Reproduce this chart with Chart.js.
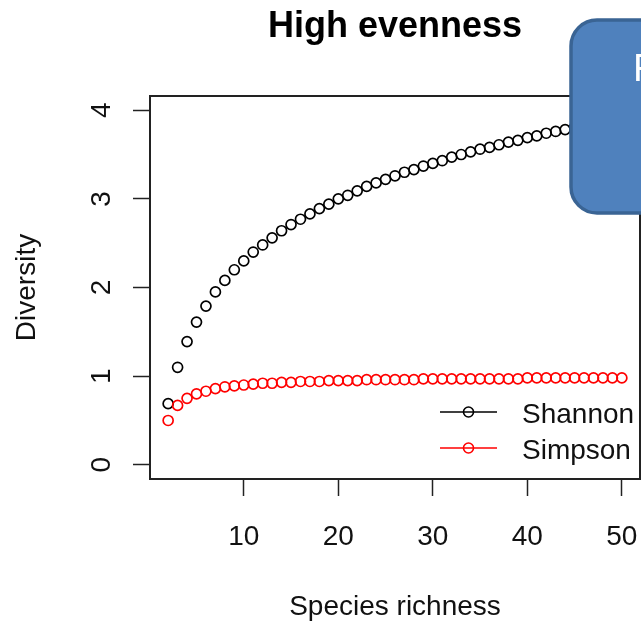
<!DOCTYPE html>
<html>
<head>
<meta charset="utf-8">
<script src="https://cdn.jsdelivr.net/npm/chart.js@4.4.0/dist/chart.umd.min.js"></script>
<style>
    html, body { margin: 0; padding: 0; background: #ffffff; }
    canvas { display: block; }
</style>
</head>
<body>
<canvas id="ChartDiversity" width="641" height="622"></canvas>
<script>
(function () {
    "use strict";

    // Data
    const richness = [2, 3, 4, 5, 6, 7, 8, 9, 10, 11, 12, 13, 14, 15, 16, 17, 18, 19, 20, 21, 22, 23, 24, 25, 26,
        27, 28, 29, 30, 31, 32, 33, 34, 35, 36, 37, 38, 39, 40, 41, 42, 43, 44, 45, 46, 47, 48, 49, 50];
    const shannon = [0.69, 1.10, 1.39, 1.61, 1.79, 1.95, 2.08, 2.20, 2.30, 2.40, 2.48, 2.56, 2.64, 2.71, 2.77,
        2.83, 2.89, 2.94, 3.00, 3.04, 3.09, 3.14, 3.18, 3.22, 3.26, 3.30, 3.33, 3.37, 3.40, 3.43, 3.47, 3.50,
        3.53, 3.56, 3.58, 3.61, 3.64, 3.66, 3.69, 3.71, 3.74, 3.76, 3.78, 3.81, 3.83, 3.85, 3.87, 3.89, 3.91];
    const simpson = [0.50, 0.67, 0.75, 0.80, 0.83, 0.86, 0.88, 0.89, 0.90, 0.91, 0.92, 0.92, 0.93, 0.93, 0.94,
        0.94, 0.94, 0.95, 0.95, 0.95, 0.95, 0.96, 0.96, 0.96, 0.96, 0.96, 0.96, 0.97, 0.97, 0.97, 0.97, 0.97,
        0.97, 0.97, 0.97, 0.97, 0.97, 0.97, 0.98, 0.98, 0.98, 0.98, 0.98, 0.98, 0.98, 0.98, 0.98, 0.98, 0.98];
    const xTicks = [10, 20, 30, 40, 50];
    const yTicks = [0, 1, 2, 3, 4];

    // Colors / fonts
    const font_family = '"Liberation Sans", Arial, sans-serif';
    const text_black = '#111111';
    const axis_dark = '#222222';
    const simpson_red = '#ff0000';
    const box_fill = '#4f81bd';
    const box_border = '#3a6494';

    const toPoints = (ys) => ys.map((y, i) => ({ x: richness[i], y: y }));

    // Title above the plot region
    const titlePlugin = {
        id: 'rTitle',
        afterDraw(chart) {
            const { ctx, chartArea } = chart;
            ctx.save();
            ctx.fillStyle = '#000000';
            ctx.font = 'bold 36px ' + font_family;
            ctx.textAlign = 'center';
            ctx.textBaseline = 'alphabetic';
            ctx.fillText('High evenness', (chartArea.left + chartArea.right) / 2, 37);
            ctx.restore();
        }
    };

    // Box round the plot + rotated y tick labels (R style)
    const framePlugin = {
        id: 'rFrame',
        beforeDatasetsDraw(chart) {
            const { ctx, chartArea } = chart;
            const yScale = chart.scales.y;
            ctx.save();
            ctx.strokeStyle = axis_dark;
            ctx.lineWidth = 2;
            ctx.strokeRect(chartArea.left, chartArea.top, chartArea.right - chartArea.left, chartArea.bottom - chartArea.top);

            ctx.fillStyle = text_black;
            ctx.font = '28px ' + font_family;
            ctx.textAlign = 'center';
            ctx.textBaseline = 'middle';
            yScale.ticks.forEach(t => {
                ctx.save();
                ctx.translate(chartArea.left - 48, yScale.getPixelForValue(t.value));
                ctx.rotate(-Math.PI / 2);
                ctx.fillText(String(t.value), 0, 0);
                ctx.restore();
            });
            ctx.restore();
        }
    };

    // Legend in the bottom right corner: line + open circle + label
    const legendPlugin = {
        id: 'rLegend',
        afterDatasetsDraw(chart) {
            const { ctx, chartArea } = chart;
            const rows = [chartArea.bottom - 67, chartArea.bottom - 31];
            ctx.save();
            chart.data.datasets.forEach((ds, i) => {
                const y = rows[i];
                ctx.strokeStyle = ds.borderColor;
                ctx.lineWidth = 1.6;
                ctx.beginPath();
                ctx.moveTo(chartArea.right - 200, y);
                ctx.lineTo(chartArea.right - 143, y);
                ctx.stroke();
                ctx.beginPath();
                ctx.arc(chartArea.right - 171.5, y, ds.pointRadius, 0, Math.PI * 2);
                ctx.stroke();
                ctx.fillStyle = text_black;
                ctx.font = '28px ' + font_family;
                ctx.textAlign = 'left';
                ctx.textBaseline = 'middle';
                ctx.fillText(ds.label, chartArea.right - 118, y + 3);
            });
            ctx.restore();
        }
    };

    // Blue slide callout laid over the plot
    const calloutPlugin = {
        id: 'callout',
        afterDraw(chart) {
            const { ctx } = chart;
            const x = 571, y = 20, w = 220, h = 193, r = 26;
            ctx.save();
            ctx.beginPath();
            ctx.moveTo(x + r, y);
            ctx.arcTo(x + w, y, x + w, y + h, r);
            ctx.arcTo(x + w, y + h, x, y + h, r);
            ctx.arcTo(x, y + h, x, y, r);
            ctx.arcTo(x, y, x + w, y, r);
            ctx.closePath();
            ctx.fillStyle = box_fill;
            ctx.fill();
            ctx.lineWidth = 3.5;
            ctx.strokeStyle = box_border;
            ctx.stroke();
            ctx.fillStyle = '#ffffff';
            ctx.font = '38px ' + font_family;
            ctx.textAlign = 'left';
            ctx.textBaseline = 'alphabetic';
            ctx.fillText('Richness', 633, 81);
            ctx.restore();
        }
    };

    const ctx = document.getElementById('ChartDiversity').getContext('2d');
    new Chart(ctx, {
        type: 'scatter',
        data: {
            datasets: [{
                label: 'Shannon',
                data: toPoints(shannon),
                borderColor: '#000000',
                backgroundColor: 'rgba(0,0,0,0)',
                pointStyle: 'circle',
                pointRadius: 5,
                borderWidth: 1.7,
                showLine: false,
                order: 1
            }, {
                label: 'Simpson',
                data: toPoints(simpson),
                borderColor: simpson_red,
                backgroundColor: 'rgba(0,0,0,0)',
                pointStyle: 'circle',
                pointRadius: 5,
                borderWidth: 1.7,
                showLine: false,
                order: 0
            }]
        },
        options: {
            responsive: false,
            animation: false,
            layout: {
                autoPadding: false,
                padding: { top: 96, right: 1, bottom: 0, left: 0 }
            },
            scales: {
                x: {
                    type: 'linear',
                    min: 0.08,
                    max: 51.92,
                    afterBuildTicks: (s) => { s.ticks = xTicks.map(v => ({ value: v })); },
                    afterFit: (s) => {
                        s.height = 143;
                        s.paddingLeft = 0;
                        s.paddingRight = 0;
                    },
                    border: { display: false },
                    grid: {
                        display: true,
                        drawOnChartArea: false,
                        drawTicks: true,
                        tickLength: 17,
                        tickColor: axis_dark,
                        tickWidth: 1.5
                    },
                    ticks: {
                        color: text_black,
                        font: { family: font_family, size: 28 },
                        padding: 24,
                        maxRotation: 0,
                        autoSkip: false
                    },
                    title: {
                        display: true,
                        text: 'Species richness',
                        color: text_black,
                        font: { family: font_family, size: 28, lineHeight: 1 },
                        padding: { top: 0, bottom: 1 }
                    }
                },
                y: {
                    type: 'linear',
                    min: -0.16,
                    max: 4.16,
                    afterBuildTicks: (s) => { s.ticks = yTicks.map(v => ({ value: v })); },
                    afterFit: (s) => {
                        s.width = 150;
                        s.paddingTop = 0;
                        s.paddingBottom = 0;
                    },
                    border: { display: false },
                    grid: {
                        display: true,
                        drawOnChartArea: false,
                        drawTicks: true,
                        tickLength: 17,
                        tickColor: axis_dark,
                        tickWidth: 1.5
                    },
                    ticks: { display: false },
                    title: {
                        display: true,
                        text: 'Diversity',
                        color: text_black,
                        font: { family: font_family, size: 28, lineHeight: 1 },
                        padding: { top: 13.5, bottom: 0 }
                    }
                }
            },
            plugins: {
                legend: { display: false },
                tooltip: { enabled: false }
            }
        },
        plugins: [framePlugin, legendPlugin, titlePlugin, calloutPlugin]
    });
})();
</script>
</body>
</html>
